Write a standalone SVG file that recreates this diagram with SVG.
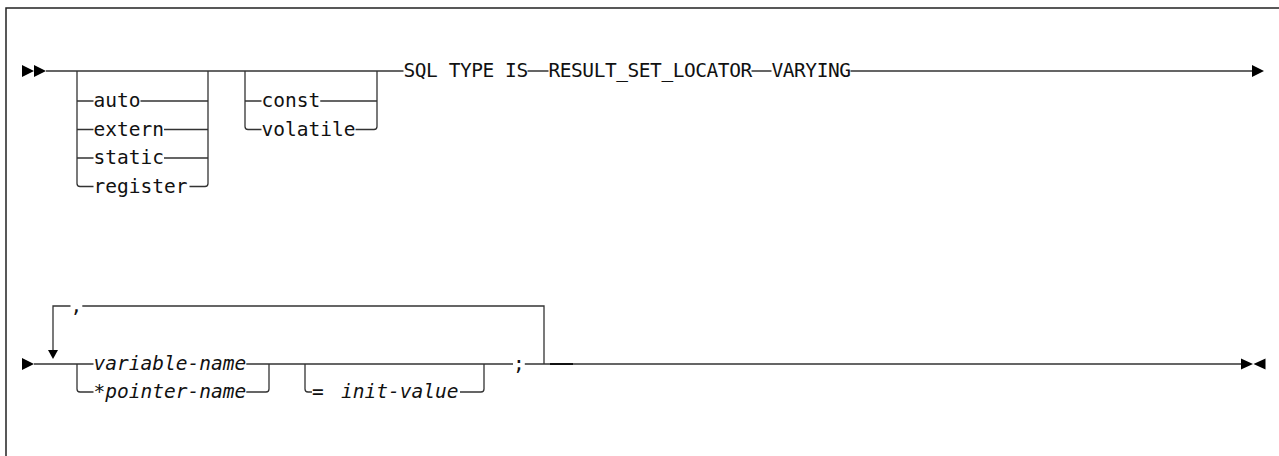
<svg xmlns="http://www.w3.org/2000/svg" width="1279" height="456" viewBox="0 0 1279 456">
<style>
.t{font-family:"DejaVu Sans Mono","Liberation Mono",monospace;font-size:19.5px;fill:#111}
.c{letter-spacing:-0.45px}
.i{font-style:italic}
.ln{fill:none;stroke:#333;stroke-width:1.3}
.frame{fill:none;stroke:#222;stroke-width:1.5}
.ah{fill:#000}
</style>
<rect width="1279" height="456" fill="#fff"/>
<path class="frame" d="M1290,8 H6 V470"/>
<g id="connectors">
<!-- row 1 -->
<polygon class="ah" points="22,65 34,71 22,77"/>
<polygon class="ah" points="34,65 46,71 34,77"/>
<path class="ln" d="M46,71 H403.5 M527.5,71 H548.5 M751.5,71 H771.5 M850.5,71 H1253"/>
<polygon class="ah" points="1252,65 1264,71 1252,77"/>
<!-- bracket 1 -->
<path class="ln" d="M77,71 V183.5 Q77,186.5 80,186.5 H93.5"/>
<path class="ln" d="M208,71 V183.5 Q208,186.5 205,186.5 H189.5"/>
<path class="ln" d="M77,101 H93.5 M140.5,101 H208"/>
<path class="ln" d="M77,129.5 H93.5 M164,129.5 H208"/>
<path class="ln" d="M77,158 H93.5 M164,158 H208"/>
<!-- bracket 2 -->
<path class="ln" d="M245,71 V126.5 Q245,129.5 248,129.5 H261.5"/>
<path class="ln" d="M377,71 V126.5 Q377,129.5 374,129.5 H355.5"/>
<path class="ln" d="M245,101 H261.5 M320.25,101 H377"/>
<!-- row 2 -->
<polygon class="ah" points="22,358 34,364 22,370"/>
<path class="ln" d="M34,364 H93.5 M246.3,364 H513 M524.8,364 H1242"/>
<path d="M550,364 H573" stroke="#111" stroke-width="2"/>
<polygon class="ah" points="1241,358.5 1253,364 1241,369.5"/>
<polygon class="ah" points="1265.5,358.5 1253.5,364 1265.5,369.5"/>
<!-- repeat loop -->
<path class="ln" d="M53,351 V306 H70.5 M82.3,306 H544 V364"/>
<polygon class="ah" points="48,350 58,350 53,359"/>
<!-- variable bracket -->
<path class="ln" d="M77,364 V389 Q77,392 80,392 H93.5"/>
<path class="ln" d="M269,364 V389 Q269,392 266,392 H246.3"/>
<!-- init bracket -->
<path class="ln" d="M305,364 V389 Q305,392 308,392 H312"/>
<path class="ln" d="M484,364 V389 Q484,392 481,392 H460"/>
</g>
<g id="n-auto"><text class="t" x="93.5" y="107">auto</text></g>
<g id="n-extern"><text class="t" x="93.5" y="135.5">extern</text></g>
<g id="n-static"><text class="t" x="93.5" y="164">static</text></g>
<g id="n-register"><text class="t" x="93.5" y="192.5">register</text></g>
<g id="n-const"><text class="t" x="261.5" y="107">const</text></g>
<g id="n-volatile"><text class="t" x="261.5" y="135.5">volatile</text></g>
<g id="n-sqltype"><text class="t c" x="403.5" y="77">SQL TYPE IS</text></g>
<g id="n-rsl"><text class="t c" x="548.5" y="77">RESULT_SET_LOCATOR</text></g>
<g id="n-varying"><text class="t c" x="771.5" y="77">VARYING</text></g>
<g id="n-comma"><text class="t" x="70.5" y="312">,</text></g>
<g id="n-varname"><text class="t i" x="93.5" y="370">variable-name</text></g>
<g id="n-ptrname"><text class="t i" x="93.5" y="398">*pointer-name</text></g>
<g id="n-init"><text class="t" x="312" y="398">=<tspan class="i" x="341">init-value</tspan></text></g>
<g id="n-semi"><text class="t" x="513" y="370">;</text></g>
</svg>
